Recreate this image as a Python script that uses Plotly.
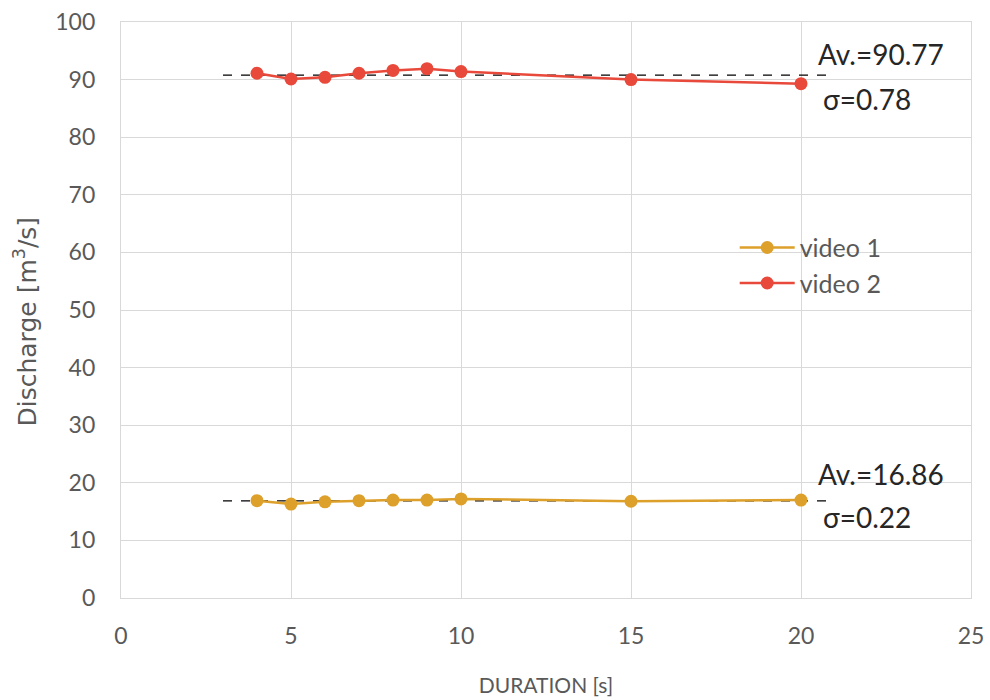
import plotly.graph_objects as go

# Measurement durations [s]
duration = [4, 5, 6, 7, 8, 9, 10, 15, 20]

# Discharge estimates [m3/s]
video1 = [16.9, 16.3, 16.7, 16.9, 17.0, 17.0, 17.2, 16.8, 17.0]
video2 = [91.1, 90.1, 90.4, 91.1, 91.6, 91.9, 91.4, 90.0, 89.3]

# Averages and standard deviations
avg_labels = ["Av.=16.86", "Av.=90.77"]
sigma_labels = ["σ=0.22", "σ=0.78"]
averages = [16.86, 90.77]
avg_span = [3, 21]

c1 = "#DDA02B"
c2 = "#E8493B"
grey = "#595959"
grid = "#D9D9D9"
font = "Lato, 'Open Sans', sans-serif"
wide = "'DejaVu Sans', sans-serif"

fig = go.Figure()

# average reference lines
for a in averages:
    fig.add_trace(go.Scatter(
        x=avg_span, y=[a, a], mode="lines",
        line=dict(color="black", width=1.4, dash="dash"),
        showlegend=False, hoverinfo="skip"))

fig.add_trace(go.Scatter(
    x=duration, y=video1, mode="lines+markers", name="video 1",
    legendgroup="v1",
    line=dict(color=c1, width=2.5), marker=dict(color=c1, size=13)))
fig.add_trace(go.Scatter(
    x=duration, y=video2, mode="lines+markers", name="video 2",
    legendgroup="v2",
    line=dict(color=c2, width=2.5), marker=dict(color=c2, size=13)))

# statistics labels
for a_txt, s_txt, a_y, s_y in zip(avg_labels, sigma_labels, [21.6, 94.4], [14.1, 86.6]):
    fig.add_annotation(x=20.45, y=a_y, text=a_txt, showarrow=False,
                       xanchor="left", yanchor="middle",
                       font=dict(family=font, size=28, color="#262626"))
    fig.add_annotation(x=20.6, y=s_y, text=s_txt, showarrow=False,
                       xanchor="left", yanchor="middle",
                       font=dict(family=font, size=28, color="#262626"))

# y-axis title
fig.add_annotation(x=0, xref="paper", xshift=-95, y=0.48, yref="paper",
                   text="Discharge [m<sup>3</sup>/s]", textangle=-90,
                   showarrow=False, xanchor="center", yanchor="middle",
                   font=dict(family=wide, size=25, color=grey))

fig.update_layout(
    width=990, height=700,
    margin=dict(l=121, r=19, t=22, b=102, autoexpand=False),
    paper_bgcolor="white", plot_bgcolor="white",
    font=dict(family=font, size=23, color=grey),
    legend=dict(x=0.722, y=0.648, xanchor="left", yanchor="top",
                bgcolor="rgba(0,0,0,0)", font=dict(size=25, color=grey),
                itemwidth=55, tracegroupgap=0),
    xaxis=dict(range=[0, 25], dtick=5, showgrid=True, gridcolor=grid,
               gridwidth=1.2, zeroline=False, showline=True, linecolor=grid,
               linewidth=1.2, mirror=True, ticks="", ticklabelstandoff=17,
               automargin=False,
               tickfont=dict(size=23, color=grey),
               title=dict(text="DURATION [s]", standoff=30,
                          font=dict(size=21, color=grey))),
    yaxis=dict(range=[0, 100], dtick=10, showgrid=True, gridcolor=grid,
               gridwidth=1.2, zeroline=False, showline=True, linecolor=grid,
               linewidth=1.2, mirror=True, ticks="", ticklabelstandoff=20,
               automargin=False,
               tickfont=dict(size=23, color=grey)),
)

fig.write_html("out.html")
